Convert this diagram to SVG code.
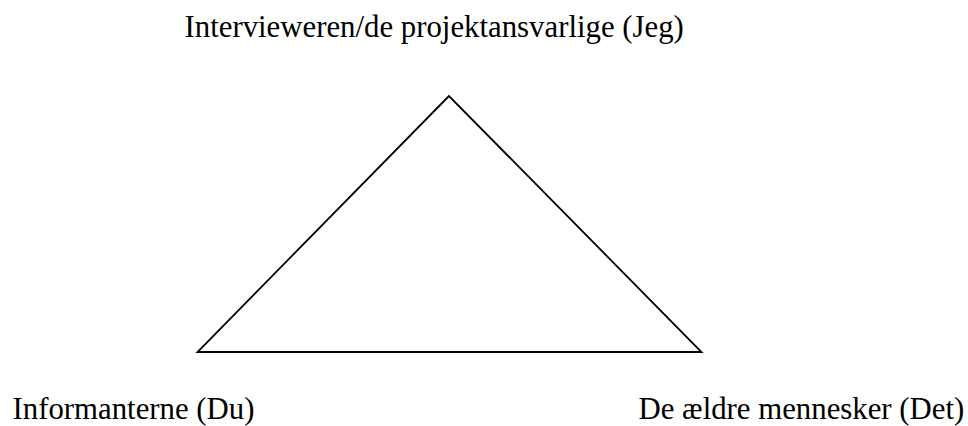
<svg xmlns="http://www.w3.org/2000/svg" width="968" height="426" viewBox="0 0 968 426">
<style>
.lbl{font-family:"Liberation Serif","Times New Roman",serif;font-size:30.8px;fill:#000}
.edge{fill:none;stroke:#000;stroke-width:1.8;stroke-linejoin:miter}
</style>
<rect width="968" height="426" fill="#fff"/>
<g id="connectors">
<polygon class="edge" points="449,96 197.5,352 701.5,352"/>
</g>
<g id="node-jeg"><text class="lbl" x="184.5" y="37">Intervieweren/de projektansvarlige (Jeg)</text></g>
<g id="node-du"><text class="lbl" x="12.5" y="419">Informanterne (Du)</text></g>
<g id="node-det"><text class="lbl" x="638.5" y="419">De ældre mennesker (Det)</text></g>
</svg>
